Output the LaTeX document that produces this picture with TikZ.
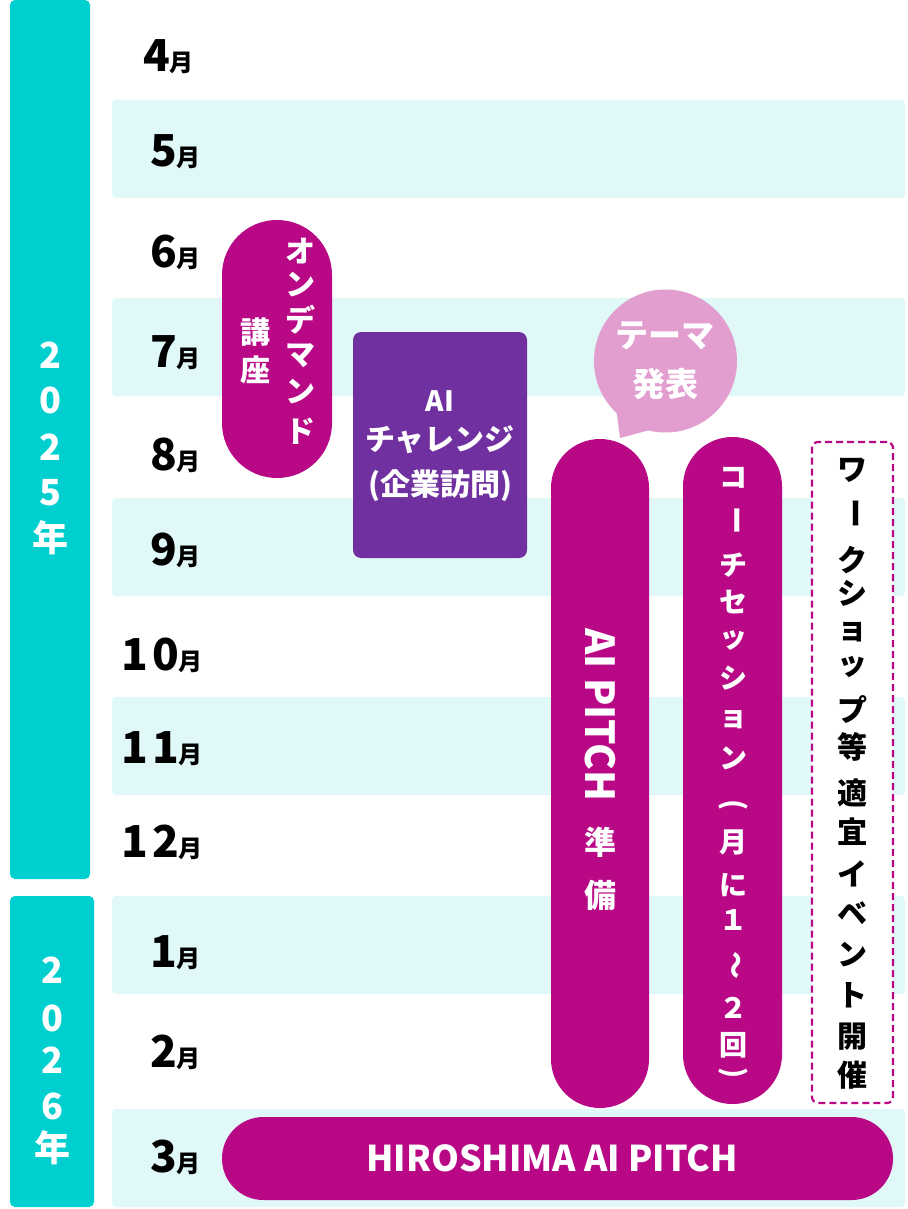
\documentclass[tikz,border=0pt]{standalone}
\usepackage{fontspec}
\usetikzlibrary{calc}
\setmainfont{Noto Sans CJK JP}
\newcommand\setfs[1]{\fontsize{#1}{#1}\selectfont}
\newcommand\lpar{(}
\newcommand\rpar{)}
\definecolor{tealc}{RGB}{0,207,208}
\definecolor{stripec}{RGB}{224,248,248}
\definecolor{magc}{RGB}{184,8,134}
\definecolor{purc}{RGB}{112,48,160}
\definecolor{pinkc}{RGB}{226,158,207}
\begin{document}
\begin{tikzpicture}[x=1pt,y=-1pt,
  stripe/.style={fill=stripec, draw=none, rounded corners=4pt},
  yearbar/.style={fill=tealc, draw=none, rounded corners=5pt},
  mon/.style={anchor=base east, inner sep=0pt, font=\bfseries, text=black},
  ych/.style={inner sep=0pt, text=white, font=\bfseries\setfs{36}},
  pillbox/.style={fill=magc, draw=none, inner sep=0pt},
  wch/.style={inner sep=0pt, text=white, font=\bfseries\setfs{28}},
  bch/.style={inner sep=0pt, text=black, font=\bfseries\setfs{30}}
]
\useasboundingbox (0,0) rectangle (907,1209);
\fill[white] (0,0) rectangle (907,1209);

% stripes
\foreach \a/\b [count=\i] in {100/198, 298/396, 498/596, 697/795, 896/994, 1109/1207}
  \path[stripe] (112,\a) rectangle (905,\b) coordinate (stripe\i);

% year bars
\node[yearbar, minimum width=80pt, minimum height=879pt, inner sep=0pt] (y2025) at (50,439.5) {};
\node[yearbar, minimum width=84pt, minimum height=311pt, inner sep=0pt] (y2026) at (52,1051.5) {};
\foreach \c/\yy [count=\i] in {2/355, 0/400, 2/447, 5/493, 年/538}
  \node[ych] (ya\i) at (50,\yy) {\c};
\foreach \c/\yy [count=\i] in {2/970, 0/1018, 2/1060, 6/1106, 年/1148}
  \node[ych] (yb\i) at (52,\yy) {\c};

% month labels
\foreach \m/\xx/\yy in {4/194/72, 5/201/167, 6/201/267, 7/201/367, 8/201/470, 9/201/565, 10/203/670, 11/203/763, 12/203/857, 1/201/967, 2/201/1067, 3/201/1172}
  \node[mon] (mon\m) at (\xx,\yy) {{\setfs{44}\addfontfeatures{LetterSpace=8}\m}{\setfs{24}月}};

% on-demand pill
\node[pillbox, minimum width=110pt, minimum height=258pt, rounded corners=54.9pt] (ondemand) at (277,349) {};
\foreach \c/\yy [count=\i] in {オ/251, ン/285, デ/320, マ/356, ン/392, ド/431}
  \node[wch, font=\bfseries\setfs{30}] (od\i) at (300,\yy) {\c};
\node[wch, font=\bfseries\setfs{30}] (kou) at (255,332) {講};
\node[wch, font=\bfseries\setfs{30}] (za) at (255,370) {座};

% AI challenge box
\node[fill=purc, draw=none, rounded corners=8pt, minimum width=174pt, minimum height=226pt, inner sep=0pt] (aich) at (440,445) {};
\node[wch, font=\bfseries\setfs{28}] (aich1) at (440,401) {AI};
\node[wch, font=\bfseries\setfs{30}] (aich2) at (440,440) {チャレンジ};
\node[wch, font=\bfseries\setfs{30}] (aich3) at (440,486) {(企業訪問)};

% theme bubble
\node[circle, fill=pinkc, draw=none, minimum size=143pt, inner sep=0pt] (theme) at (665.5,361) {};
\coordinate (tip) at (620,438);
\fill[pinkc] ($(theme.center)+(-50,42)$) -- (tip) -- ($(theme.center)+(-12,68)$) -- cycle;
\node[wch, font=\bfseries\setfs{33}] (th1) at (665,336) {テーマ};
\node[wch, font=\bfseries\setfs{33}] (th2) at (665,384) {発表};

% AI PITCH prep pill
\node[pillbox, minimum width=98pt, minimum height=669pt, rounded corners=48.9pt] (prep) at (600,773.5) {};
\node[wch, font=\bfseries\setfs{40}, rotate=-90] (prept) at (600,715) {AI PITCH};
\node[wch, font=\bfseries\setfs{32}] (prep1) at (600,842) {準};
\node[wch, font=\bfseries\setfs{32}] (prep2) at (600,895) {備};

% coach session pill
\node[pillbox, minimum width=99pt, minimum height=667pt, rounded corners=49.4pt] (coach) at (732.5,770.5) {};
\foreach \c/\yy/\r [count=\i] in {コ/478/0, ー/520/-90, チ/565/0, セ/602/0, ッ/640/0, シ/678/0, ョ/720/0, ン/758/0, \lpar/805/-90, 月/842/0, に/885/0, １/920/0, ～/965/-90, ２/1008/0, 回/1045/0, \rpar/1073/-90}
  \node[wch, rotate=\r] (co\i) at (733,\yy) {\c};

% workshop dashed box
\node[draw=magc, line width=2.2pt, dash pattern=on 7pt off 4pt, rounded corners=6pt, fill=white, minimum width=81pt, minimum height=661pt, inner sep=0pt] (work) at (852.5,772.5) {};
\foreach \c/\yy/\r [count=\i] in {ワ/470/0, ー/513/-90, ク/560/0, シ/593/0, ョ/632/0, ッ/667/0, プ/710/0, 等/747/0, 適/793/0, 宜/832/0, イ/874/0, ベ/913/0, ン/955/0, ト/995/0, 開/1037/0, 催/1075/0}
  \node[bch, rotate=\r] (wo\i) at (852,\yy) {\c};

% HIROSHIMA AI PITCH
\node[pillbox, minimum width=671pt, minimum height=83pt, rounded corners=41.4pt] (final) at (557.5,1158.5) {};
\node[wch, font=\bfseries\setfs{35.5}] (finalt) at (552,1158) {HIROSHIMA AI PITCH};
\end{tikzpicture}
\end{document}
